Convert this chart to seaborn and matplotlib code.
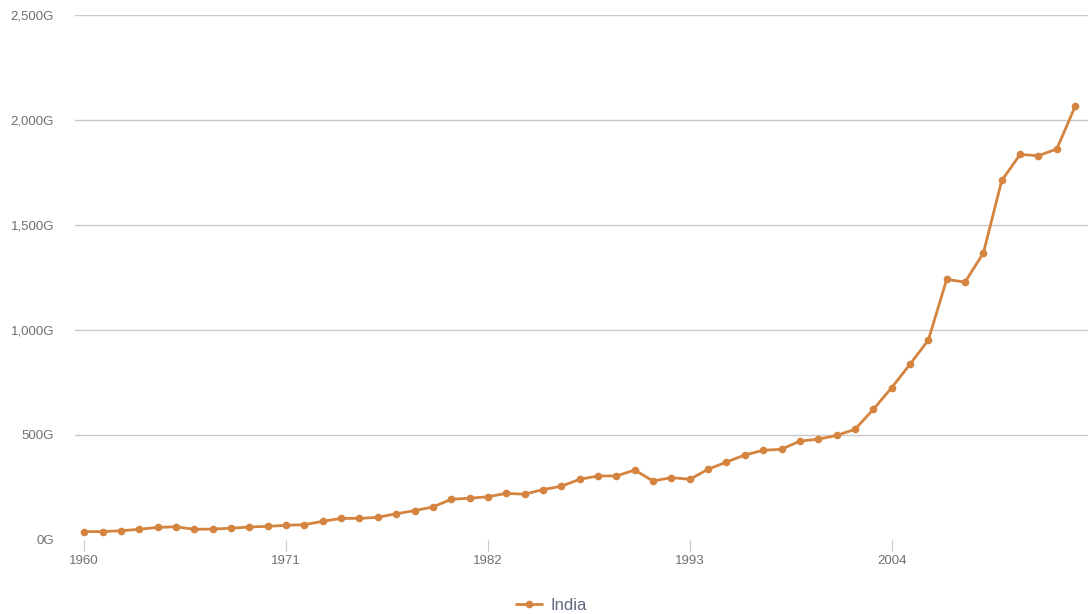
import matplotlib
matplotlib.use('Agg')
import matplotlib.pyplot as plt
import seaborn as sns
import pandas as pd
from matplotlib.ticker import FuncFormatter, FixedLocator
from matplotlib.lines import Line2D

# India GDP, billions of US$
years = list(range(1960, 2015))
gdp = [40, 40, 44, 51, 60, 63, 51, 52, 56, 62,
       65, 70, 73, 89, 103, 103, 108, 125, 140, 157,
       194, 199, 206, 222, 218, 240, 256, 289, 305, 305,
       333, 281, 297, 289, 337, 371, 405, 427, 432, 471,
       480, 498, 527, 622, 725, 837, 952, 1241, 1228, 1367,
       1712, 1836, 1830, 1862, 2065]
country = 'India'

year_ticks = [1960, 1971, 1982, 1993, 2004]
value_ticks = [0, 500, 1000, 1500, 2000, 2500]

line_color = '#d4843e'

df = pd.DataFrame({'year': years, 'gdp': gdp})

sns.set_theme(style='white')
plt.rcParams['font.family'] = ['Liberation Sans', 'DejaVu Sans']

fig = plt.figure(figsize=(10.92, 6.14), dpi=100)
ax = fig.add_axes([75 / 1092, 1 - 540 / 614, (1088 - 75) / 1092, (540 - 15) / 614])

sns.lineplot(data=df, x='year', y='gdp', ax=ax, color=line_color,
             linewidth=2, marker='o', markersize=5.5,
             markeredgewidth=0, markerfacecolor=line_color)

ax.set_xlim(1959.5, 2014.7)
ax.set_ylim(0, 2500)
ax.yaxis.set_major_locator(FixedLocator(value_ticks))
ax.yaxis.set_major_formatter(FuncFormatter(lambda v, p: f'{int(v):,}G'))
ax.xaxis.set_major_locator(FixedLocator(year_ticks))

for v in value_ticks[1:]:
    ax.axhline(v, color='#c8c8c8', linewidth=1, zorder=0)

for s in ax.spines.values():
    s.set_visible(False)

ax.set_xlabel('')
ax.set_ylabel('')
ax.tick_params(axis='y', length=0, pad=15, labelsize=9.5, labelcolor='#707070')
ax.tick_params(axis='x', length=8, width=0.8, color='#c8c8c8', pad=3,
               labelsize=9.5, labelcolor='#707070', direction='out', bottom=True)

handle = Line2D([], [], color=line_color, linewidth=2, marker='o',
                markersize=5.5, markeredgewidth=0)
fig.legend([handle], [country], loc='center', bbox_to_anchor=(0.505, 1 - 605 / 614),
           frameon=False, fontsize=12, handlelength=1.6, handletextpad=0.5,
           labelcolor='#5c6b80')

fig.savefig('out.png', dpi=100)
